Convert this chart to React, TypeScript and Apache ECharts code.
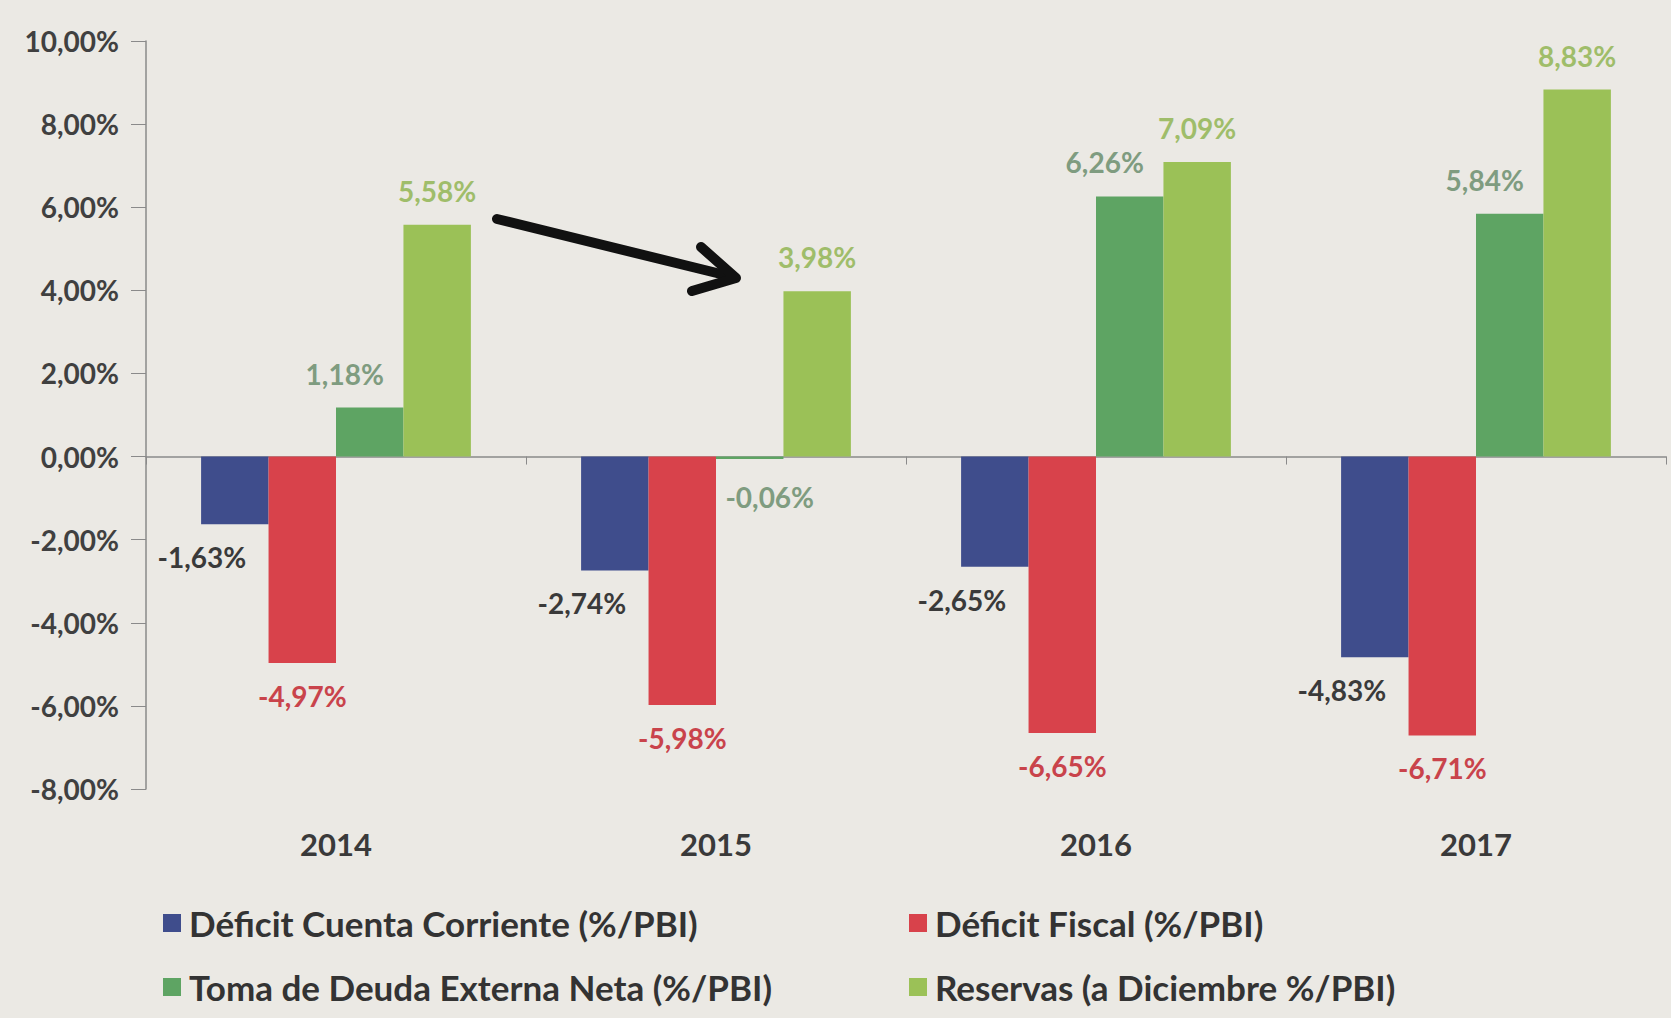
import React, { useEffect, useRef } from "react";
import * as echarts from "echarts";

const years = ["2014", "2015", "2016", "2017"];
const deficitCuentaCorriente = [-1.63, -2.74, -2.65, -4.83];
const deficitFiscal = [-4.97, -5.98, -6.65, -6.71];
const tomaDeuda = [1.18, -0.06, 6.26, 5.84];
const reservas = [5.58, 3.98, 7.09, 8.83];
const seriesNames = [
  "Déficit Cuenta Corriente (%/PBI)",
  "Déficit Fiscal (%/PBI)",
  "Toma de Deuda Externa Neta (%/PBI)",
  "Reservas (a Diciembre %/PBI)",
];

const FONT = "Lato, 'Open Sans', sans-serif";
const fmt = (v: number) => v.toFixed(2).replace(".", ",") + "%";

export default function App() {
  const ref = useRef<HTMLDivElement>(null);
  useEffect(() => {
    if (!ref.current) return;
    const chart = echarts.init(ref.current, null, { renderer: "svg" });

    const makeData = (vals: number[], posOffset: number[], negOffset: number[]) =>
      vals.map((v) => ({
        value: v,
        label: v < 0 ? { position: "bottom", offset: negOffset } : { position: "top", offset: posOffset },
      }));

    const labelBase = (color: string) => ({
      show: true,
      distance: 5,
      fontFamily: FONT,
      fontSize: 28,
      fontWeight: "bold",
      color,
      formatter: (p: any) => fmt(p.value),
    });

    const legendText = { fontFamily: FONT, fontSize: 35, fontWeight: "bold", color: "#333", lineHeight: 36, padding: [0, 0, 0, 3] };

    chart.setOption({
      animation: false,
      backgroundColor: "#ebe9e4",
      grid: { left: 146, right: 5, top: 41, bottom: 229, containLabel: false },
      xAxis: [
        {
          type: "category",
          data: years,
          axisLine: { onZero: true, lineStyle: { color: "#8a8a8a", width: 1.5 } },
          axisTick: { show: true, length: 8, lineStyle: { color: "#8a8a8a" } },
          axisLabel: { show: false },
        },
        {
          type: "category",
          data: years,
          position: "bottom",
          axisLine: { show: false, onZero: false },
          axisTick: { show: false },
          axisLabel: {
            margin: 39,
            fontFamily: FONT,
            fontSize: 31,
            fontWeight: "bold",
            color: "#3a3a3a",
          },
        },
      ],
      yAxis: {
        type: "value",
        min: -8,
        max: 10,
        interval: 2,
        splitLine: { show: false },
        axisLine: { show: true, lineStyle: { color: "#8a8a8a", width: 1.5 } },
        axisTick: { show: true, length: 15, lineStyle: { color: "#8a8a8a" } },
        axisLabel: {
          margin: 27,
          fontFamily: FONT,
          fontSize: 28,
          fontWeight: "bold",
          color: "#404040",
          formatter: (v: number) => fmt(v),
        },
      },
      legend: [
        {
          orient: "vertical",
          left: 158,
          top: 900,
          itemWidth: 18,
          itemHeight: 18,
          itemGap: 28,
          icon: "rect",
          data: [seriesNames[0], seriesNames[2]],
          textStyle: legendText,
        },
        {
          orient: "vertical",
          left: 904,
          top: 900,
          itemWidth: 18,
          itemHeight: 18,
          itemGap: 28,
          icon: "rect",
          data: [seriesNames[1], seriesNames[3]],
          textStyle: legendText,
        },
      ],
      series: [
        {
          name: seriesNames[0],
          type: "bar",
          barGap: "0%",
          barCategoryGap: "29%",
          itemStyle: { color: "#3f4d8c" },
          label: labelBase("#3a3a3a"),
          data: makeData(deficitCuentaCorriente, [0, -15], [-33, 14]),
        },
        {
          name: seriesNames[1],
          type: "bar",
          barGap: "0%",
          barCategoryGap: "29%",
          itemStyle: { color: "#d8424b" },
          label: labelBase("#c9434b"),
          data: makeData(deficitFiscal, [0, -15], [0, 14]),
        },
        {
          name: seriesNames[2],
          type: "bar",
          barGap: "0%",
          barCategoryGap: "29%",
          itemStyle: { color: "#5ea463" },
          label: labelBase("#7f9c80"),
          data: makeData(tomaDeuda, [-25, -15], [20, 19]),
        },
        {
          name: seriesNames[3],
          type: "bar",
          barGap: "0%",
          barCategoryGap: "29%",
          itemStyle: { color: "#9bc157" },
          label: labelBase("#9fbd6a"),
          data: makeData(reservas, [0, -15], [0, 14]),
        },
      ],
      graphic: [
        {
          type: "line",
          shape: { x1: 497, y1: 219, x2: 733, y2: 277 },
          style: { stroke: "#111", lineWidth: 10, lineCap: "round" },
        },
        {
          type: "polyline",
          shape: { points: [[701, 247], [736, 278], [692, 291]] },
          style: { stroke: "#111", lineWidth: 10, lineCap: "round", lineJoin: "round", fill: "none" },
        },
      ],
    });
    return () => chart.dispose();
  }, []);
  return <div ref={ref} style={{ position: "fixed", left: 0, top: 0, width: 1671, height: 1018 }} />;
}
